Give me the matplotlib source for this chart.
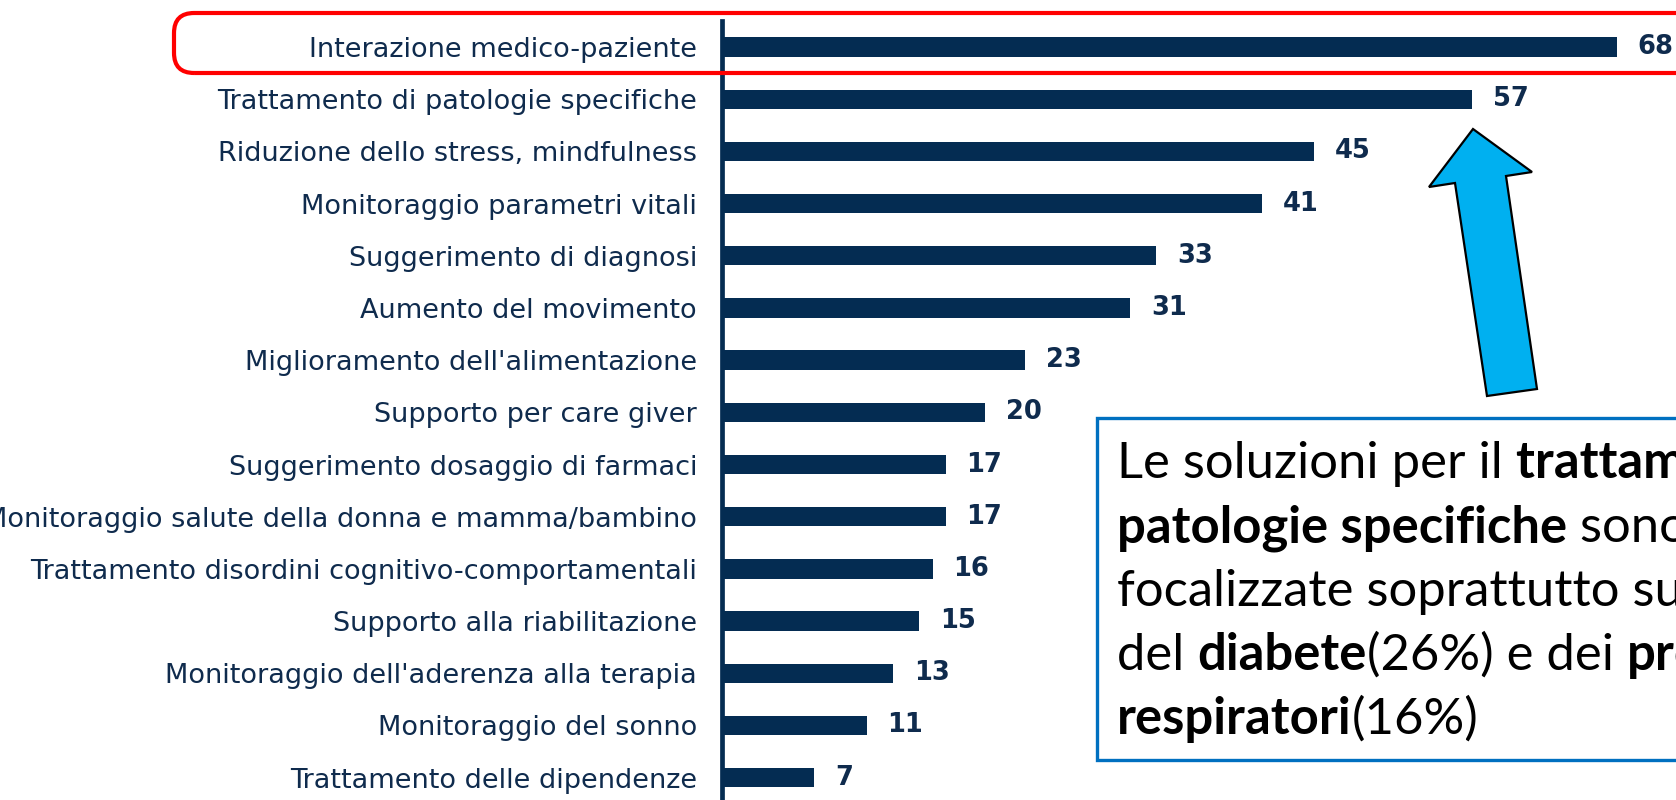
import matplotlib
matplotlib.use('Agg')
import matplotlib.pyplot as plt
from matplotlib.patches import FancyBboxPatch, Rectangle, Polygon

categories = [
    'Interazione medico-paziente',
    'Trattamento di patologie specifiche',
    'Riduzione dello stress, mindfulness',
    'Monitoraggio parametri vitali',
    'Suggerimento di diagnosi',
    'Aumento del movimento',
    "Miglioramento dell'alimentazione",
    'Supporto per care giver',
    'Suggerimento dosaggio di farmaci',
    'Monitoraggio salute della donna e mamma/bambino',
    'Trattamento disordini cognitivo-comportamentali',
    'Supporto alla riabilitazione',
    "Monitoraggio dell'aderenza alla terapia",
    'Monitoraggio del sonno',
    'Trattamento delle dipendenze',
]
values = [68, 57, 45, 41, 33, 31, 23, 20, 17, 17, 16, 15, 13, 11, 7]

# callout text, one list of (text, bold) per line
note_lines = [
    [('Le soluzioni per il ', False), ('trattamento delle', True)],
    [('patologie specifiche', True), (' sono', False)],
    [('focalizzate soprattutto sul trattamento', False)],
    [('del ', False), ('diabete', True), ('(26%) e dei ', False), ('problemi', True)],
    [('respiratori', True), ('(16%)', False)],
]

W, H = 1676, 800
navy = '#042C52'
text_navy = '#0F2B4D'


def fx(x):
    return x / W


def fy(y_top):
    return (H - y_top) / H


fig = plt.figure(figsize=(W / 100, H / 100), dpi=100)
ax = fig.add_axes([fx(722), 0, 1 - fx(722), fy(21)])

pos = list(range(len(values)))
ax.barh(pos, values, height=0.37, color=navy)
ax.set_xlim(0, (W - 722) / 13.16)
ax.set_ylim(14.43, -0.5)

for s in ['top', 'right', 'bottom']:
    ax.spines[s].set_visible(False)
ax.spines['left'].set_linewidth(3.4)
ax.spines['left'].set_color(navy)
ax.set_xticks([])
ax.set_yticks(pos)
ax.set_yticklabels(categories, fontsize=19.5, color=text_navy, family='DejaVu Sans')
ax.tick_params(axis='y', length=0, pad=18)

for p, v in zip(pos, values):
    ax.annotate(str(v), (v, p), xytext=(15, 0), textcoords='offset points',
                va='center', ha='left', fontsize=18.5, color=text_navy, fontweight='bold')

# red highlight around the first row
red = FancyBboxPatch((fx(174), fy(73)), fx(1700) - fx(174), fy(13) - fy(73),
                     boxstyle='round,pad=0,rounding_size=0.012',
                     transform=fig.transFigure, fill=False, edgecolor='#FF0000',
                     linewidth=3, zorder=5, mutation_aspect=W / H)
fig.patches.append(red)

# blue arrow pointing at the second bar
arrow_px = [(1473, 129), (1532, 172), (1506, 176), (1537, 389),
            (1487, 396), (1455, 183), (1429, 187)]
arrow = Polygon([(fx(x), fy(y)) for x, y in arrow_px], closed=True,
                transform=fig.transFigure, facecolor='#00B0F0',
                edgecolor='black', linewidth=1.6, zorder=5)
fig.patches.append(arrow)

# callout box
box = Rectangle((fx(1097), fy(760)), fx(1700) - fx(1097), fy(418) - fy(760),
                transform=fig.transFigure, facecolor='white',
                edgecolor='#0070C0', linewidth=2.4, zorder=5)
fig.patches.append(box)

renderer = fig.canvas.get_renderer()
baseline = 478
for line in note_lines:
    x = 1117
    for txt, bold in line:
        t = fig.text(fx(x), fy(baseline), txt, fontsize=36.5, family='Lato',
                     fontweight='bold' if bold else 'normal', color='black',
                     va='baseline', ha='left', zorder=6)
        bb = t.get_window_extent(renderer)
        x = bb.x1
    baseline += 64

fig.savefig('out.png', dpi=100)
